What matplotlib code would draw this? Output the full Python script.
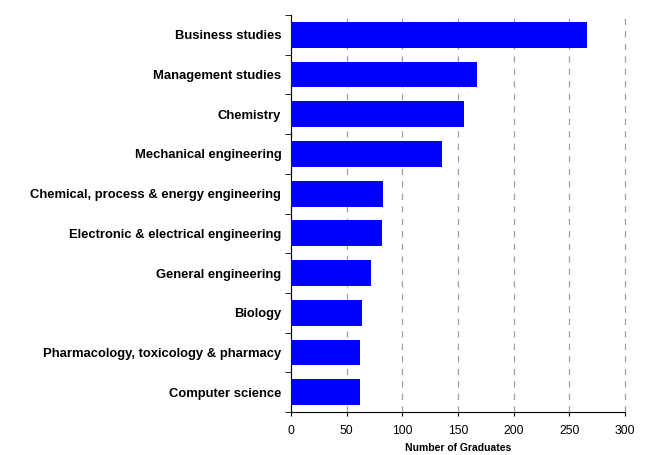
import matplotlib
matplotlib.use("Agg")
from matplotlib import pyplot as plt
import numpy as np

# subjects, top to bottom as in the chart
subjects = [
    "Business studies",
    "Management studies",
    "Chemistry",
    "Mechanical engineering",
    "Chemical, process & energy engineering",
    "Electronic & electrical engineering",
    "General engineering",
    "Biology",
    "Pharmacology, toxicology & pharmacy",
    "Computer science",
]
graduates = [266, 167, 155, 136, 83, 82, 72, 64, 62, 62]
x_ticks = [0, 50, 100, 150, 200, 250, 300]

plt.rcParams['font.family'] = ['Liberation Sans', 'DejaVu Sans']

fig = plt.figure(figsize=(6.51, 4.55), dpi=100)
ax = fig.add_axes([0.447, 0.0945, 0.513, 0.8725])

pos = np.arange(len(subjects))
ax.barh(pos, graduates, height=0.65, color='#0000ff', zorder=3)

ax.set_xlim(0, 300)
ax.set_ylim(len(subjects) - 0.5, -0.5)
ax.set_xticks(x_ticks)
ax.set_xticklabels([str(t) for t in x_ticks], fontsize=8.8)

# category labels without ticks, ticks at category boundaries
ax.set_yticks(pos)
ax.set_yticklabels(subjects, fontsize=9.4, fontweight='bold')
ax.tick_params(axis='y', length=0, pad=7)
ax.set_yticks(np.arange(len(subjects) + 1) - 0.5, minor=True)
ax.tick_params(axis='y', which='minor', length=4, direction='out')
ax.tick_params(axis='x', length=3, direction='out', pad=6)

ax.xaxis.grid(True, linestyle=(0, (5, 5)), color='#a0a0a0', linewidth=0.9, zorder=0)
for gl in ax.get_xgridlines():
    gl.set_clip_on(False)
for s in ['top', 'right']:
    ax.spines[s].set_visible(False)

ax.set_xlabel('Number of Graduates', fontsize=7.5, fontweight='bold', labelpad=5)

fig.savefig('out.png', dpi=100)
